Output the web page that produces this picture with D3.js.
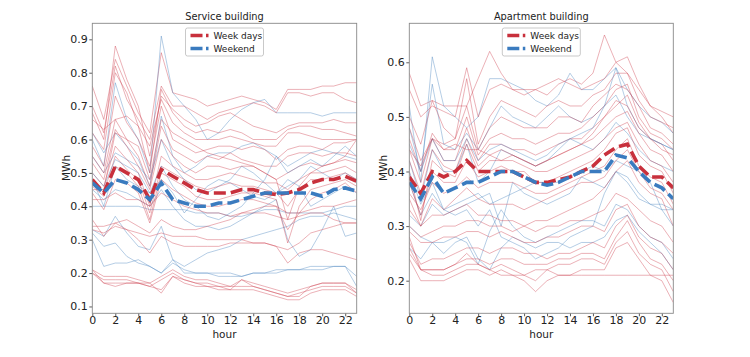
<!DOCTYPE html>
<html><head><meta charset="utf-8">
<script src="https://cdn.jsdelivr.net/npm/d3@7"></script>
<style>body{margin:0;background:#fff}svg{display:block}text{font-family:"DejaVu Sans",sans-serif;fill:#222}</style>
</head><body><svg id="c" width="750" height="357"></svg>
<script>
const hours = d3.range(0, 24);
const xTicks = [0,2,4,6,8,10,12,14,16,18,20,22];
const serviceTicks = [0.1,0.2,0.3,0.4,0.5,0.6,0.7,0.8,0.9];
const apartmentTicks = [0.2,0.3,0.4,0.5,0.6];

// Service building: weekday (red) thin lines
const serviceWeek = [
[0.76,0.66,0.84,0.76,0.68,0.62,0.86,0.74,0.73,0.72,0.70,0.71,0.72,0.73,0.72,0.71,0.69,0.75,0.75,0.75,0.76,0.76,0.77,0.77],
[0.70,0.62,0.82,0.72,0.66,0.60,0.76,0.70,0.70,0.68,0.66,0.68,0.69,0.70,0.71,0.70,0.68,0.74,0.74,0.73,0.74,0.74,0.72,0.71],
[0.68,0.60,0.88,0.78,0.70,0.55,0.73,0.69,0.66,0.64,0.65,0.67,0.68,0.66,0.64,0.63,0.62,0.64,0.65,0.65,0.65,0.66,0.65,0.65],
[0.62,0.57,0.80,0.74,0.64,0.50,0.75,0.68,0.64,0.62,0.63,0.62,0.63,0.62,0.60,0.60,0.60,0.63,0.64,0.64,0.63,0.63,0.62,0.61],
[0.66,0.63,0.66,0.67,0.64,0.58,0.72,0.65,0.62,0.60,0.60,0.60,0.61,0.60,0.59,0.58,0.58,0.62,0.62,0.61,0.60,0.60,0.60,0.60],
[0.58,0.52,0.73,0.65,0.60,0.52,0.70,0.60,0.58,0.56,0.57,0.58,0.58,0.57,0.58,0.57,0.54,0.57,0.58,0.58,0.57,0.59,0.59,0.60],
[0.55,0.50,0.66,0.60,0.55,0.46,0.64,0.57,0.55,0.53,0.55,0.54,0.56,0.54,0.53,0.52,0.52,0.55,0.56,0.56,0.55,0.56,0.56,0.55],
[0.53,0.48,0.63,0.58,0.52,0.45,0.60,0.55,0.52,0.50,0.52,0.52,0.51,0.52,0.52,0.50,0.48,0.50,0.52,0.53,0.52,0.53,0.54,0.53],
[0.50,0.46,0.58,0.54,0.50,0.40,0.55,0.52,0.50,0.48,0.48,0.49,0.50,0.49,0.48,0.47,0.47,0.45,0.48,0.50,0.50,0.51,0.52,0.50],
[0.48,0.44,0.55,0.51,0.48,0.38,0.52,0.50,0.48,0.46,0.45,0.46,0.47,0.46,0.46,0.45,0.44,0.40,0.45,0.48,0.48,0.49,0.50,0.48],
[0.46,0.43,0.52,0.50,0.46,0.36,0.50,0.48,0.46,0.43,0.42,0.42,0.43,0.44,0.44,0.43,0.42,0.29,0.40,0.45,0.46,0.47,0.48,0.46],
[0.44,0.39,0.48,0.47,0.44,0.35,0.48,0.45,0.43,0.41,0.40,0.40,0.41,0.42,0.42,0.41,0.40,0.33,0.38,0.42,0.44,0.45,0.47,0.44],
[0.45,0.45,0.62,0.60,0.58,0.48,0.66,0.62,0.60,0.58,0.56,0.55,0.54,0.53,0.52,0.50,0.48,0.36,0.46,0.50,0.52,0.53,0.55,0.60],
[0.42,0.42,0.44,0.42,0.42,0.40,0.44,0.42,0.40,0.39,0.38,0.38,0.37,0.38,0.39,0.40,0.40,0.38,0.38,0.39,0.40,0.40,0.41,0.42],
[0.36,0.31,0.35,0.36,0.34,0.32,0.36,0.34,0.33,0.33,0.34,0.35,0.36,0.38,0.38,0.38,0.37,0.36,0.37,0.38,0.38,0.36,0.35,0.35],
[0.34,0.34,0.35,0.33,0.30,0.26,0.31,0.29,0.28,0.28,0.28,0.28,0.29,0.29,0.29,0.29,0.28,0.27,0.29,0.32,0.33,0.34,0.35,0.35],
[0.33,0.32,0.34,0.33,0.32,0.31,0.32,0.31,0.31,0.31,0.30,0.30,0.30,0.30,0.29,0.29,0.28,0.23,0.26,0.27,0.27,0.26,0.25,0.24],
[0.21,0.19,0.19,0.19,0.18,0.17,0.19,0.21,0.19,0.18,0.18,0.17,0.16,0.18,0.17,0.16,0.15,0.14,0.15,0.16,0.17,0.17,0.17,0.15],
[0.20,0.18,0.18,0.18,0.17,0.16,0.18,0.20,0.18,0.17,0.17,0.16,0.16,0.16,0.16,0.15,0.14,0.13,0.14,0.15,0.16,0.16,0.16,0.14],
[0.20,0.17,0.17,0.17,0.17,0.17,0.14,0.19,0.17,0.16,0.16,0.15,0.15,0.15,0.15,0.14,0.13,0.12,0.12,0.14,0.15,0.15,0.15,0.13],
[0.21,0.17,0.16,0.17,0.17,0.16,0.15,0.19,0.18,0.17,0.16,0.16,0.15,0.18,0.16,0.15,0.14,0.13,0.13,0.16,0.17,0.17,0.17,0.14]
];
// Service building: weekend (blue) thin lines
const serviceWeekend = [
[0.60,0.52,0.77,0.66,0.60,0.50,0.91,0.74,0.70,0.66,0.60,0.62,0.66,0.69,0.71,0.72,0.68,0.68,0.68,0.68,0.67,0.68,0.68,0.68],
[0.62,0.56,0.62,0.58,0.54,0.46,0.67,0.55,0.50,0.52,0.55,0.56,0.56,0.58,0.59,0.57,0.55,0.52,0.54,0.56,0.57,0.56,0.55,0.54],
[0.55,0.50,0.56,0.54,0.52,0.48,0.60,0.52,0.48,0.45,0.44,0.46,0.48,0.52,0.50,0.47,0.44,0.46,0.48,0.52,0.50,0.48,0.50,0.48],
[0.48,0.40,0.52,0.48,0.46,0.44,0.48,0.44,0.38,0.42,0.46,0.48,0.47,0.45,0.43,0.42,0.44,0.48,0.46,0.40,0.42,0.44,0.46,0.44],
[0.40,0.40,0.40,0.40,0.40,0.39,0.39,0.39,0.39,0.38,0.38,0.38,0.37,0.37,0.38,0.39,0.39,0.38,0.38,0.38,0.38,0.39,0.40,0.40],
[0.45,0.42,0.45,0.44,0.42,0.40,0.45,0.40,0.36,0.34,0.34,0.33,0.34,0.36,0.38,0.40,0.42,0.30,0.25,0.27,0.33,0.40,0.31,0.32],
[0.33,0.31,0.37,0.32,0.28,0.27,0.34,0.24,0.22,0.24,0.26,0.27,0.28,0.30,0.31,0.32,0.33,0.34,0.36,0.37,0.37,0.38,0.37,0.36],
[0.30,0.22,0.23,0.23,0.24,0.22,0.20,0.24,0.20,0.20,0.20,0.19,0.19,0.19,0.20,0.20,0.21,0.21,0.21,0.22,0.22,0.22,0.22,0.19],
[0.32,0.28,0.29,0.25,0.23,0.22,0.20,0.23,0.21,0.20,0.20,0.20,0.20,0.19,0.20,0.20,0.20,0.21,0.21,0.21,0.21,0.22,0.22,0.16],
[0.50,0.46,0.54,0.52,0.50,0.44,0.52,0.46,0.42,0.40,0.37,0.36,0.38,0.40,0.44,0.48,0.55,0.50,0.52,0.54,0.52,0.55,0.58,0.55]
];
const serviceWeekMean =    [0.48,0.44,0.52,0.50,0.48,0.42,0.51,0.49,0.47,0.45,0.44,0.44,0.44,0.45,0.45,0.44,0.435,0.44,0.45,0.47,0.48,0.48,0.49,0.475];
const serviceWeekendMean = [0.47,0.44,0.48,0.47,0.45,0.42,0.47,0.42,0.41,0.40,0.40,0.41,0.41,0.42,0.43,0.44,0.44,0.44,0.44,0.44,0.43,0.45,0.455,0.445];

// Apartment building
const aptWeek = [
[0.58,0.52,0.53,0.52,0.52,0.52,0.57,0.62,0.58,0.55,0.54,0.55,0.54,0.56,0.57,0.56,0.58,0.65,0.60,0.58,0.55,0.52,0.50,0.47],
[0.55,0.50,0.52,0.51,0.50,0.59,0.50,0.55,0.56,0.55,0.55,0.55,0.56,0.57,0.56,0.55,0.56,0.57,0.60,0.61,0.56,0.52,0.51,0.50],
[0.50,0.45,0.53,0.48,0.46,0.57,0.45,0.50,0.53,0.52,0.51,0.50,0.52,0.53,0.52,0.52,0.54,0.55,0.58,0.58,0.53,0.50,0.49,0.48],
[0.48,0.42,0.46,0.45,0.46,0.52,0.44,0.48,0.50,0.49,0.48,0.48,0.48,0.50,0.50,0.49,0.52,0.54,0.56,0.55,0.52,0.48,0.47,0.45],
[0.46,0.40,0.47,0.44,0.44,0.50,0.43,0.46,0.47,0.46,0.46,0.45,0.46,0.47,0.47,0.48,0.50,0.52,0.55,0.56,0.50,0.47,0.46,0.44],
[0.44,0.38,0.46,0.42,0.42,0.48,0.42,0.45,0.45,0.44,0.44,0.43,0.44,0.45,0.46,0.46,0.48,0.50,0.52,0.54,0.49,0.46,0.45,0.42],
[0.42,0.36,0.44,0.41,0.40,0.46,0.41,0.43,0.44,0.43,0.42,0.41,0.42,0.43,0.44,0.45,0.46,0.48,0.50,0.51,0.47,0.44,0.43,0.40],
[0.40,0.31,0.42,0.40,0.39,0.45,0.40,0.42,0.42,0.42,0.41,0.40,0.40,0.41,0.42,0.43,0.44,0.46,0.48,0.49,0.45,0.42,0.41,0.38],
[0.38,0.32,0.40,0.38,0.38,0.42,0.39,0.40,0.41,0.40,0.40,0.38,0.38,0.39,0.40,0.41,0.42,0.44,0.47,0.48,0.43,0.41,0.40,0.36],
[0.44,0.41,0.46,0.44,0.45,0.44,0.44,0.43,0.42,0.43,0.42,0.41,0.42,0.43,0.44,0.45,0.47,0.50,0.53,0.52,0.48,0.46,0.44,0.43],
[0.36,0.33,0.38,0.36,0.37,0.39,0.37,0.38,0.38,0.38,0.37,0.36,0.36,0.37,0.38,0.39,0.40,0.41,0.44,0.46,0.41,0.39,0.38,0.34],
[0.33,0.30,0.32,0.32,0.33,0.34,0.32,0.32,0.31,0.31,0.30,0.31,0.31,0.32,0.33,0.34,0.35,0.37,0.40,0.42,0.38,0.36,0.35,0.30],
[0.30,0.28,0.29,0.30,0.30,0.31,0.31,0.30,0.30,0.29,0.30,0.29,0.30,0.30,0.31,0.31,0.32,0.33,0.36,0.35,0.33,0.31,0.30,0.27],
[0.29,0.27,0.27,0.28,0.28,0.29,0.29,0.28,0.29,0.28,0.27,0.27,0.28,0.28,0.29,0.30,0.30,0.29,0.33,0.34,0.30,0.28,0.27,0.25],
[0.27,0.23,0.24,0.24,0.25,0.26,0.26,0.25,0.26,0.26,0.25,0.25,0.24,0.25,0.25,0.26,0.27,0.26,0.30,0.32,0.28,0.26,0.25,0.22],
[0.26,0.22,0.22,0.22,0.23,0.24,0.24,0.23,0.24,0.24,0.23,0.23,0.23,0.24,0.24,0.25,0.25,0.24,0.28,0.31,0.27,0.24,0.23,0.20],
[0.25,0.22,0.22,0.22,0.23,0.25,0.23,0.22,0.23,0.22,0.21,0.22,0.22,0.23,0.23,0.24,0.24,0.23,0.27,0.29,0.25,0.23,0.22,0.18],
[0.24,0.20,0.20,0.20,0.21,0.22,0.22,0.21,0.22,0.21,0.20,0.18,0.20,0.21,0.21,0.22,0.22,0.22,0.26,0.27,0.24,0.21,0.20,0.16],
[0.28,0.22,0.21,0.21,0.22,0.23,0.23,0.22,0.21,0.21,0.21,0.20,0.22,0.21,0.21,0.21,0.21,0.21,0.21,0.21,0.21,0.21,0.21,0.21],
[0.35,0.30,0.35,0.33,0.35,0.37,0.35,0.34,0.34,0.34,0.33,0.34,0.35,0.36,0.37,0.38,0.38,0.39,0.42,0.44,0.40,0.37,0.36,0.33]
];
const aptWeekend = [
[0.52,0.38,0.61,0.52,0.50,0.48,0.50,0.57,0.57,0.56,0.55,0.53,0.52,0.54,0.58,0.55,0.55,0.57,0.59,0.55,0.52,0.50,0.49,0.47],
[0.48,0.40,0.56,0.45,0.44,0.47,0.44,0.48,0.52,0.50,0.49,0.48,0.50,0.52,0.50,0.49,0.50,0.52,0.54,0.50,0.47,0.46,0.45,0.44],
[0.42,0.35,0.44,0.40,0.40,0.45,0.38,0.40,0.44,0.43,0.42,0.41,0.42,0.44,0.46,0.45,0.44,0.46,0.49,0.47,0.44,0.42,0.41,0.40],
[0.38,0.32,0.36,0.33,0.34,0.35,0.36,0.34,0.35,0.36,0.37,0.38,0.38,0.38,0.39,0.40,0.41,0.40,0.42,0.41,0.40,0.38,0.33,0.33],
[0.32,0.30,0.34,0.32,0.33,0.34,0.35,0.36,0.30,0.38,0.36,0.35,0.34,0.35,0.36,0.39,0.38,0.37,0.40,0.38,0.35,0.34,0.33,0.30],
[0.30,0.28,0.27,0.27,0.28,0.27,0.23,0.29,0.33,0.30,0.28,0.27,0.28,0.29,0.30,0.31,0.31,0.30,0.34,0.33,0.30,0.28,0.27,0.24],
[0.26,0.24,0.27,0.25,0.27,0.28,0.24,0.22,0.26,0.28,0.27,0.26,0.27,0.27,0.26,0.27,0.27,0.28,0.31,0.32,0.29,0.27,0.25,0.22],
[0.40,0.34,0.38,0.33,0.32,0.33,0.30,0.33,0.28,0.27,0.26,0.24,0.25,0.26,0.28,0.29,0.30,0.36,0.40,0.39,0.36,0.34,0.34,0.33],
[0.45,0.40,0.46,0.42,0.42,0.46,0.42,0.44,0.45,0.44,0.43,0.42,0.43,0.45,0.46,0.47,0.48,0.52,0.59,0.52,0.48,0.46,0.45,0.44]
];
const aptWeekMean =    [0.39,0.36,0.40,0.39,0.40,0.42,0.40,0.40,0.40,0.40,0.39,0.38,0.38,0.385,0.39,0.40,0.41,0.43,0.444,0.45,0.41,0.39,0.39,0.37];
const aptWeekendMean = [0.38,0.35,0.39,0.36,0.37,0.38,0.38,0.39,0.40,0.40,0.39,0.38,0.375,0.38,0.39,0.40,0.40,0.40,0.43,0.425,0.40,0.38,0.37,0.35];

const RED = "#c8303c", BLUE = "#3a7bbf";
const THIN_RED = "rgba(205,60,75,0.5)", THIN_BLUE = "rgba(70,130,190,0.5)";

const svg = d3.select("#c");

function panel(cfg) {
  const g = svg.append("g");
  const x = d3.scaleLinear().domain([0, 23]).range([cfg.x0, cfg.x1]);
  const y = d3.scaleLinear().domain(cfg.yDomain).range([313.3, 23.3]);
  const line = d3.line().x((d, i) => x(hours[i])).y(d => y(d));
  const clip = "clip" + cfg.id;
  svg.append("clipPath").attr("id", clip).append("rect")
    .attr("x", cfg.x0).attr("y", 23.3).attr("width", cfg.x1 - cfg.x0).attr("height", 290);
  const plot = g.append("g").attr("clip-path", `url(#${clip})`);
  const all = [];
  const n = Math.max(cfg.week.length, cfg.weekend.length);
  for (let i = 0; i < n; i++) {
    if (cfg.week[i]) all.push({v: cfg.week[i], c: THIN_RED});
    if (cfg.weekend[i]) all.push({v: cfg.weekend[i], c: THIN_BLUE});
  }
  plot.selectAll("path.thin").data(all).join("path").attr("class", "thin")
    .attr("d", d => line(d.v)).attr("fill", "none").attr("stroke", d => d.c).attr("stroke-width", 0.8);
  plot.append("path").attr("d", line(cfg.weekMean)).attr("fill", "none")
    .attr("stroke", RED).attr("stroke-width", 3.6).attr("stroke-dasharray", "12,5");
  plot.append("path").attr("d", line(cfg.weekendMean)).attr("fill", "none")
    .attr("stroke", BLUE).attr("stroke-width", 3.6).attr("stroke-dasharray", "12,5");

  const xa = g.append("g").attr("transform", "translate(0,313.3)")
    .call(d3.axisBottom(x).tickValues(xTicks).tickSize(3).tickPadding(0).tickFormat(d3.format("d")));
  const ya = g.append("g").attr("transform", `translate(${cfg.x0},0)`)
    .call(d3.axisLeft(y).tickValues(cfg.yTicks).tickSize(3).tickPadding(1.5).tickFormat(d3.format(".1f")));
  [xa, ya].forEach(a => {
    a.select(".domain").remove();
    a.selectAll("line").attr("stroke", "#333").attr("stroke-width", 0.8);
    a.selectAll("text").style("font-size", "11px").attr("fill", "#222");
  });
  g.append("rect").attr("x", cfg.x0).attr("y", 23.3).attr("width", cfg.x1 - cfg.x0).attr("height", 290)
    .attr("fill", "none").attr("stroke", "#888").attr("stroke-width", 0.9);

  g.append("text").attr("x", (cfg.x0 + cfg.x1) / 2).attr("y", 20).attr("text-anchor", "middle")
    .style("font-size", "9.8px").text(cfg.title);
  g.append("text").attr("x", (cfg.x0 + cfg.x1) / 2).attr("y", 338).attr("text-anchor", "middle")
    .style("font-size", "10.5px").text("hour");
  g.append("text").attr("transform", `translate(${cfg.x0 - 22},168) rotate(-90)`).attr("text-anchor", "middle")
    .style("font-size", "10.5px").text("MWh");

  const lx = (cfg.x0 + cfg.x1) / 2 - 39;
  const lg = g.append("g").attr("transform", `translate(${lx},28)`);
  lg.append("rect").attr("width", 78).attr("height", 28).attr("rx", 2).attr("fill", "#fff")
    .attr("stroke", "#bbb").attr("stroke-width", 0.8);
  [["Week days", RED], ["Weekend", BLUE]].forEach((d, i) => {
    const yy = 7.5 + i * 13;
    lg.append("line").attr("x1", 5).attr("x2", 23).attr("y1", yy).attr("y2", yy)
      .attr("stroke", d[1]).attr("stroke-width", 3.6).attr("stroke-dasharray", "12,3.5");
    lg.append("text").attr("x", 28).attr("y", yy + 3.2).style("font-size", "9px").text(d[0]);
  });
}

panel({id: "s", title: "Service building", x0: 92.3, x1: 356.7, yDomain: [0.0795, 0.948], yTicks: serviceTicks,
  week: serviceWeek, weekend: serviceWeekend, weekMean: serviceWeekMean, weekendMean: serviceWeekendMean});
panel({id: "a", title: "Apartment building", x0: 409.3, x1: 673.3, yDomain: [0.1403, 0.6714], yTicks: apartmentTicks,
  week: aptWeek, weekend: aptWeekend, weekMean: aptWeekMean, weekendMean: aptWeekendMean});
</script></body></html>
